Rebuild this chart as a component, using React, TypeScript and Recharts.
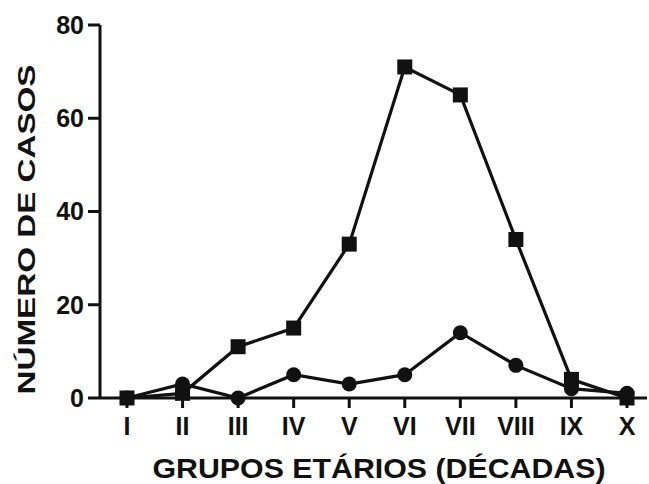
import React from 'react';
import { LineChart, Line, XAxis, YAxis } from 'recharts';

const grupos = ['I', 'II', 'III', 'IV', 'V', 'VI', 'VII', 'VIII', 'IX', 'X'];
const quadrados = [0, 1, 11, 15, 33, 71, 65, 34, 4, 0];
const circulos = [0, 3, 0, 5, 3, 5, 14, 7, 2, 1];
const yTicks = [0, 20, 40, 60, 80];

const data = grupos.map((grupo, i) => ({ grupo, quadrados: quadrados[i], circulos: circulos[i] }));

const FONT = '"Liberation Sans", Arial, sans-serif';

const SquareDot = (props: any) => {
  const { cx, cy } = props;
  if (cx == null || cy == null) return null;
  return <rect x={cx - 7.5} y={cy - 7.5} width={15} height={15} fill="#111" />;
};

const CircleDot = (props: any) => {
  const { cx, cy } = props;
  if (cx == null || cy == null) return null;
  return <circle cx={cx} cy={cy} r={7.5} fill="#111" />;
};

const YTitle = (props: any) => {
  const { viewBox } = props;
  const cy = viewBox.y + viewBox.height / 2 + 18;
  return (
    <text
      x={35}
      y={cy}
      transform={`rotate(-90, 35, ${cy})`}
      textAnchor="middle"
      fontFamily={FONT}
      fontWeight="bold"
      fontSize={24}
      fill="#111"
      textLength={330}
      lengthAdjust="spacingAndGlyphs"
    >
      NÚMERO DE CASOS
    </text>
  );
};

const XTitle = () => (
  <text
    x={379}
    y={478}
    textAnchor="middle"
    fontFamily={FONT}
    fontWeight="bold"
    fontSize={28}
    fill="#111"
    textLength={453}
    lengthAdjust="spacingAndGlyphs"
  >
    GRUPOS ETÁRIOS (DÉCADAS)
  </text>
);

export default function App() {
  return (
    <div style={{ position: 'absolute', left: 0, top: 0, background: '#fff' }}>
      <LineChart width={649} height={484} data={data} margin={{ top: 25, right: 2, bottom: 0, left: 0 }}>
        <XAxis
          dataKey="grupo"
          height={86}
          padding={{ left: 27, right: 20 }}
          tickSize={10}
          tickMargin={9}
          axisLine={{ stroke: '#111', strokeWidth: 3 }}
          tickLine={{ stroke: '#111', strokeWidth: 3 }}
          tick={{ fill: '#111', fontFamily: FONT, fontWeight: 'bold', fontSize: 25 }}
          interval={0}
          label={<XTitle />}
        />
        <YAxis
          width={100}
          domain={[0, 80]}
          ticks={yTicks}
          tickSize={12}
          tickMargin={4}
          axisLine={{ stroke: '#111', strokeWidth: 3 }}
          tickLine={{ stroke: '#111', strokeWidth: 3 }}
          tick={{ fill: '#111', fontFamily: FONT, fontWeight: 'bold', fontSize: 25 }}
          label={<YTitle />}
        />
        <Line
          dataKey="quadrados"
          type="linear"
          stroke="#111"
          strokeWidth={3.2}
          dot={<SquareDot />}
          activeDot={false}
          isAnimationActive={false}
        />
        <Line
          dataKey="circulos"
          type="linear"
          stroke="#111"
          strokeWidth={3.2}
          dot={<CircleDot />}
          activeDot={false}
          isAnimationActive={false}
        />
      </LineChart>
    </div>
  );
}
